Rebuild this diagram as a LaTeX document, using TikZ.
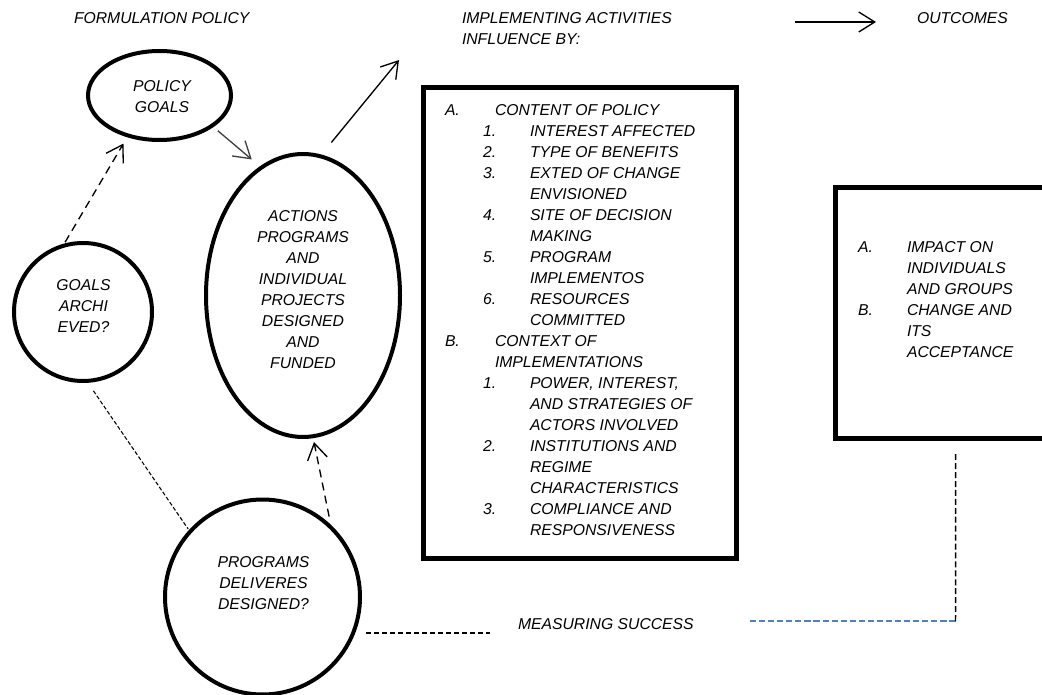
\documentclass[tikz,border=0pt]{standalone}
\usepackage{fontspec}
\setmainfont{Liberation Sans}
\usetikzlibrary{shapes.geometric,arrows.meta,calc}
\newlength\pxu \setlength\pxu{0.75pt}
\newcommand\colA[1]{\makebox[50\pxu][l]{#1}}
\newcommand\colN[1]{\hspace*{38\pxu}\makebox[47\pxu][l]{#1}}
\newcommand\contA{\hspace*{50\pxu}}
\newcommand\contN{\hspace*{85\pxu}}
\newcommand\colO[1]{\makebox[49\pxu][l]{#1}}
\newcommand\contO{\hspace*{49\pxu}}
\definecolor{msblue}{RGB}{79,129,189}
\begin{document}
\begin{tikzpicture}[x=0.75pt,y=-0.75pt,
  txt/.style={font=\fontsize{11.8}{15.75}\selectfont\itshape, inner sep=0pt, outer sep=0pt},
  oval/.style={shape=ellipse, draw, line width=3pt, inner sep=0pt, outer sep=0pt},
  ring/.style={shape=circle, draw, line width=3pt, inner sep=0pt, outer sep=0pt},
  frame/.style={shape=rectangle, draw, line width=3.75pt, inner sep=0pt, outer sep=0pt},
  barb/.style={-{Straight Barb[length=12pt,width=15pt]}},
  solidarrow/.style={barb, line width=1pt},
  dasharrow/.style={barb, line width=1pt, dash pattern=on 6pt off 4pt},
  finedash/.style={line width=0.8pt, dash pattern=on 3pt off 1.6pt},
  dotline/.style={line width=1.5pt, dash pattern=on 3.6pt off 2.4pt},
  bluedash/.style={msblue, line width=1.1pt, dash pattern=on 4.6pt off 2.2pt},
  vdash/.style={line width=1.1pt, dash pattern=on 4.5pt off 2.2pt}
]
\useasboundingbox (0,0) rectangle (1042,695);

% headings
\node[txt, anchor=west] (hform) at (74,18) {FORMULATION POLICY};
\node[txt, anchor=north west, align=left] (himpl) at (462,12.4) {IMPLEMENTING ACTIVITIES\\INFLUENCE BY:};
\node[txt, anchor=west] (hout) at (917,18) {OUTCOMES};
\coordinate (t1) at (795,22);
\coordinate (t2) at (876,22);
\draw[solidarrow] (t1) -- (t2);

% shapes
\node[oval, minimum width=107.25pt, minimum height=66.75pt] (pg) at (159.5,95.5) {};
\node[txt, anchor=north, align=center] (pgt) at (162,80.4) {POLICY\\GOALS};

\node[oval, minimum width=145.5pt, minimum height=212.25pt] (act) at (303,295.5) {};
\node[txt, anchor=north, align=center] (actt) at (303,210.4) {ACTIONS\\PROGRAMS\\AND\\INDIVIDUAL\\PROJECTS\\DESIGNED\\AND\\FUNDED};

\node[ring, minimum size=103.5pt] (ga) at (83,312) {};
\node[txt, anchor=north, align=center] (gat) at (83.5,279.4) {GOALS\\ARCHI\\EVED?};

\node[ring, minimum size=146.25pt] (pd) at (262.5,597) {};
\node[txt, anchor=north, align=center] (pdt) at (263.5,557) {PROGRAMS\\DELIVERES\\DESIGNED?};

% influence box
\node[frame, minimum width=235.1pt, minimum height=353.25pt] (box) at (579.75,323) {};
\node[txt, anchor=north west, align=left] (boxt) at (445,104.4) {%
\colA{A.}CONTENT OF POLICY\\
\colN{1.}INTEREST AFFECTED\\
\colN{2.}TYPE OF BENEFITS\\
\colN{3.}EXTED OF CHANGE\\
\contN ENVISIONED\\
\colN{4.}SITE OF DECISION\\
\contN MAKING\\
\colN{5.}PROGRAM\\
\contN IMPLEMENTOS\\
\colN{6.}RESOURCES\\
\contN COMMITTED\\
\colA{B.}CONTEXT OF\\
\contA IMPLEMENTATIONS\\
\colN{1.}POWER, INTEREST,\\
\contN AND STRATEGIES OF\\
\contN ACTORS INVOLVED\\
\colN{2.}INSTITUTIONS AND\\
\contN REGIME\\
\contN CHARACTERISTICS\\
\colN{3.}COMPLIANCE AND\\
\contN RESPONSIVENESS};

% outcomes box
\node[frame, minimum width=176pt, minimum height=187.5pt] (out) at (953,313) {};
\node[txt, anchor=north west, align=left] (outt) at (858,241.4) {%
\colO{A.}IMPACT ON\\
\contO INDIVIDUALS\\
\contO AND GROUPS\\
\colO{B.}CHANGE AND\\
\contO ITS\\
\contO ACCEPTANCE};

\node[txt, anchor=west] (meas) at (518,624) {MEASURING SUCCESS};

% connectors
\draw[solidarrow, black!75, shorten <=5.8pt, shorten >=9.5pt] (pg.-30.5) -- (act.108.25);
\coordinate (up) at (399,60);
\draw[solidarrow, shorten <=13.3pt] (act.83.8) -- (up);
\draw[dasharrow, shorten <=3.3pt, shorten >=7pt] (ga.107.4) -- (pg.232.5);
\draw[finedash, shorten <=9pt, shorten >=2.5pt] (ga.-87.2) -- (pd.138.4);
\draw[dasharrow, shorten <=8.8pt, shorten >=4.4pt] (pd.45.6) -- (act.-86.5);
\coordinate (m1) at (490,633);
\draw[dotline, shorten <=4.5pt] (pd.east |- m1) -- (m1);
\coordinate (m2) at (750,621);
\coordinate (c1) at (955.5,621);
\draw[bluedash] (m2) -- (c1);
\draw[vdash] (c1) -- ($(out.south west)+(120,14)$);
\end{tikzpicture}
\end{document}
